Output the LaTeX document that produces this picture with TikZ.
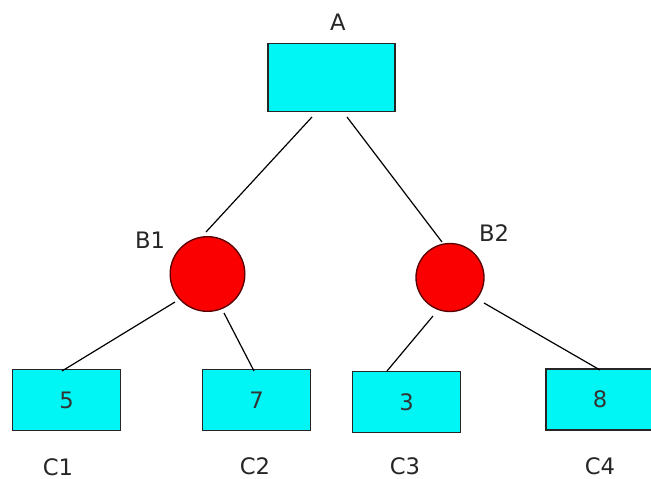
\documentclass[tikz,border=0pt]{standalone}
\usepackage{fontspec}
\setmainfont{DejaVu Sans}
\definecolor{boxfill}{RGB}{0,245,245}
\definecolor{ballfill}{RGB}{250,0,0}
\definecolor{ballline}{RGB}{90,0,0}
\begin{document}
\begin{tikzpicture}[x=0.75pt,y=-0.75pt,
  leaf/.style={draw=black!85, line width=1.1pt, fill=boxfill, minimum width=81pt, minimum height=46pt, inner sep=0pt, font=\fontsize{17}{20}\selectfont, text=black!80},
  root/.style={draw=black!85, line width=1.1pt, fill=boxfill, minimum width=95pt, minimum height=51pt, inner sep=0pt},
  chance/.style={circle, draw=ballline, line width=1pt, fill=ballfill, inner sep=0pt},
  lbl/.style={font=\fontsize{17}{20}\selectfont, text=black!85, inner sep=0pt},
  edge/.style={draw=black, line width=0.9pt}]
\useasboundingbox (0,0) rectangle (651,479);
\node[root] (A) at (331.5,77.5) {};
\node[lbl] (lA) at (338,22) {A};
\node[chance, minimum size=56pt] (B1) at (207.5,274) {};
\node[chance, minimum size=51pt] (B2) at (450,277.5) {};
\node[lbl] (lB1) at (150,240) {B1};
\node[lbl] (lB2) at (494,233) {B2};
\node[leaf] (C1) at (66.5,400) {5};
\node[leaf] (C2) at (256.5,400) {7};
\node[leaf] (C3) at (406.5,402) {3};
\node[leaf] (C4) at (600,399.5) {8};
\node[lbl] (lC1) at (58,467) {C1};
\node[lbl] (lC2) at (255,466) {C2};
\node[lbl] (lC3) at (405,466) {C3};
\node[lbl] (lC4) at (600,466) {C4};
\coordinate (a1) at (312,117);
\coordinate (a2) at (347,117);
\coordinate (b1t) at (206,232);
\coordinate (b2t) at (442,242);
\coordinate (b1l) at (175,302);
\coordinate (b1r) at (224,313);
\coordinate (b2l) at (433,316);
\coordinate (b2r) at (484,303);
\coordinate (c1t) at (62,371);
\coordinate (c2t) at (254,371);
\coordinate (c3t) at (387,371);
\coordinate (c4t) at (600,370);
\draw[edge] (a1) -- (b1t);
\draw[edge] (a2) -- (b2t);
\draw[edge] (b1l) -- (c1t);
\draw[edge] (b1r) -- (c2t);
\draw[edge] (b2l) -- (c3t);
\draw[edge] (b2r) -- (c4t);
\end{tikzpicture}
\end{document}
